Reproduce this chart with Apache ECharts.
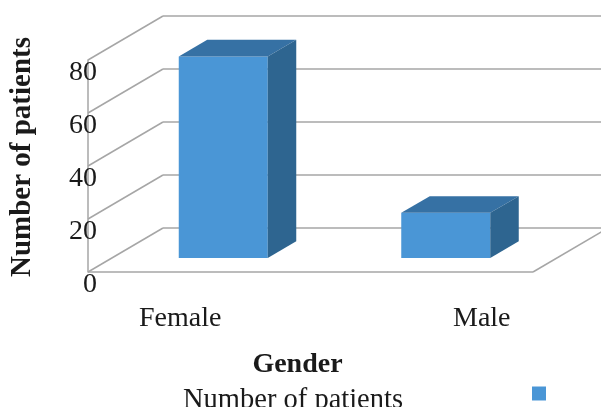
<!DOCTYPE html>
<html>
<head>
<meta charset="utf-8">
<style>
  html, body { margin: 0; padding: 0; background: #fff; }
  #chart { width: 601px; height: 407px; }
</style>
<script src="https://cdn.jsdelivr.net/npm/echarts@6/dist/echarts.min.js"></script>
</head>
<body>
<div id="chart"></div>
<script>
// data
const genders = ["Female", "Male"];
const patients = [76, 17];
const yTicks = [0, 20, 40, 60, 80];

// 3d look: how far the back wall sits from the front plane (px)
const depth = [75, -44];
const barFront = 0.32; // bar front face, as a share of the depth
const barDepth = 0.38; // bar thickness, as a share of the depth
const gridColor = "#a6a6a6";
const serif = "'Liberation Serif', 'Times New Roman', serif";

const chart = echarts.init(document.getElementById("chart"));

function renderWall(params, api) {
  const cs = params.coordSys;
  const v = api.value(1);
  const y = api.coord([0, v])[1];
  const style = { stroke: gridColor, lineWidth: 1.5, fill: null };
  const children = [
    // side wall diagonal
    { type: "line", shape: { x1: cs.x, y1: y, x2: cs.x + depth[0], y2: y + depth[1] }, style: style },
    // back wall line
    { type: "line", shape: { x1: cs.x + depth[0], y1: y + depth[1], x2: cs.x + cs.width + depth[0], y2: y + depth[1] }, style: style }
  ];
  if (v === 0) {
    // floor: front edge and right edge
    children.push({ type: "line", shape: { x1: cs.x, y1: y, x2: cs.x + cs.width, y2: y }, style: style });
    children.push({ type: "line", shape: { x1: cs.x + cs.width, y1: y, x2: cs.x + cs.width + depth[0], y2: y + depth[1] }, style: style });
  }
  return { type: "group", children: children };
}

function renderBar(params, api) {
  const idx = api.value(0);
  const top = api.coord([idx, api.value(1)]);
  const base = api.coord([idx, 0]);
  const bw = api.size([1, 0])[0] * 0.4;
  const ox = depth[0] * barFront, oy = depth[1] * barFront;
  const dx = depth[0] * barDepth, dy = depth[1] * barDepth;
  const x0 = top[0] - bw / 2 + ox;
  const y0 = top[1] + oy;
  const h = base[1] - top[1];
  return {
    type: "group",
    children: [
      {
        type: "rect",
        shape: { x: x0, y: y0, width: bw, height: h },
        style: { fill: "#4a96d6" }
      },
      {
        type: "polygon",
        shape: { points: [[x0, y0], [x0 + dx, y0 + dy], [x0 + bw + dx, y0 + dy], [x0 + bw, y0]] },
        style: { fill: "#3671a4" }
      },
      {
        type: "polygon",
        shape: { points: [[x0 + bw, y0], [x0 + bw + dx, y0 + dy], [x0 + bw + dx, y0 + h + dy], [x0 + bw, y0 + h]] },
        style: { fill: "#2e6590" }
      }
    ]
  };
}

chart.setOption({
  animation: false,
  textStyle: { fontFamily: serif },
  grid: {
    left: 88,
    right: 68,
    top: 60,
    bottom: 135,
    outerBoundsMode: "none"
  },
  legend: {
    left: 178,
    top: 381,
    align: "right",
    itemWidth: 14,
    itemHeight: 14,
    icon: "rect",
    data: ["Number of patients"],
    formatter: "{t|{name}}",
    textStyle: {
      fontFamily: serif,
      fontSize: 28,
      color: "#1a1a1a",
      rich: {
        t: { fontFamily: serif, fontSize: 28.5, color: "#1a1a1a", padding: [14, 124, 0, 0] }
      }
    }
  },
  xAxis: {
    type: "category",
    data: genders,
    name: "Gender",
    nameLocation: "middle",
    nameGap: 79,
    nameTextStyle: {
      fontFamily: serif,
      fontSize: 28,
      fontWeight: "bold",
      color: "#1a1a1a",
      padding: [0, 26, 0, 0]
    },
    axisLine: { show: false },
    axisTick: { show: false },
    splitLine: { show: false },
    axisLabel: {
      margin: 33,
      formatter: function (v) {
        return v === "Female" ? "{f|" + v + "}" : "{m|" + v + "}";
      },
      rich: {
        f: { fontFamily: serif, fontSize: 28, color: "#1a1a1a", padding: [0, 38, 0, 0] },
        m: { fontFamily: serif, fontSize: 28, color: "#1a1a1a", padding: [0, 0, 0, 120] }
      }
    }
  },
  yAxis: {
    type: "value",
    min: 0,
    max: 80,
    interval: 20,
    name: "Number of patients",
    nameLocation: "middle",
    nameGap: 51,
    nameTextStyle: {
      fontFamily: serif,
      fontSize: 29,
      fontWeight: "bold",
      color: "#1a1a1a",
      padding: [0, 0, 0, 18]
    },
    axisLine: { show: true, lineStyle: { color: gridColor, width: 1.5 } },
    axisTick: { show: false },
    splitLine: { show: false },
    axisLabel: {
      margin: -9,
      formatter: "{n|{value}}",
      rich: {
        n: { fontFamily: serif, fontSize: 28, color: "#1a1a1a", padding: [26, 0, 0, 0] }
      }
    }
  },
  series: [
    {
      name: "walls",
      type: "custom",
      renderItem: renderWall,
      silent: true,
      z: 1,
      data: yTicks.map(function (t) { return [0, t]; })
    },
    {
      name: "Number of patients",
      type: "custom",
      renderItem: renderBar,
      z: 2,
      itemStyle: { color: "#4a96d6" },
      data: patients.map(function (v, i) { return [i, v]; })
    }
  ]
});
</script>
</body>
</html>
